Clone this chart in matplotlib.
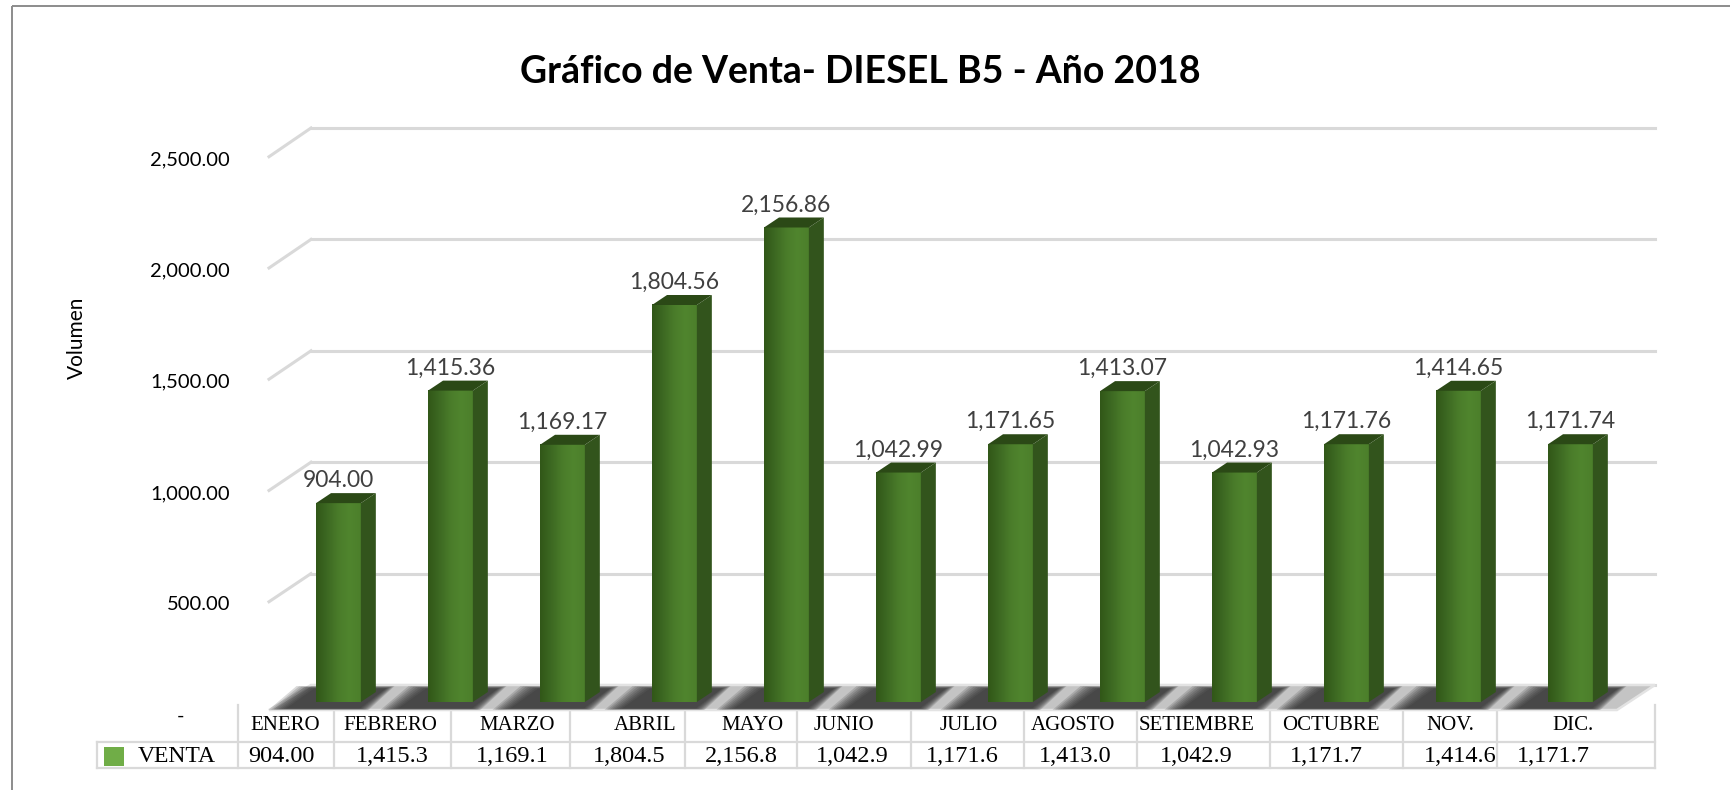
import numpy as np
import matplotlib
matplotlib.use("Agg")
import matplotlib.pyplot as plt
from matplotlib.patches import Polygon, Rectangle
from matplotlib.colors import LinearSegmentedColormap

# --- data ---
months = ["ENERO", "FEBRERO", "MARZO", "ABRIL", "MAYO", "JUNIO",
          "JULIO", "AGOSTO", "SETIEMBRE", "OCTUBRE", "NOV.", "DIC."]
venta = [904.00, 1415.36, 1169.17, 1804.56, 2156.86, 1042.99,
         1171.65, 1413.07, 1042.93, 1171.76, 1414.65, 1171.74]
# the data table shows truncated values (columns too narrow)
table_values = ["904.00", "1,415.3", "1,169.1", "1,804.5", "2,156.8", "1,042.9",
                "1,171.6", "1,413.0", "1,042.9", "1,171.7", "1,414.6", "1,171.7"]
y_ticks = [0, 500, 1000, 1500, 2000, 2500]
series_name = "VENTA"
title = "Gráfico de Venta- DIESEL B5 - Año 2018"
y_label = "Volumen"

# --- layout (pixels of a 1730x790 canvas) ---
W, H = 1730, 790
PX_CAT = 112.0       # px per category
PX_VAL = 0.220       # px per unit
XMIN, XMAX = -0.62, 11.415
YMAX = 2650
DX = 15 / PX_CAT     # bar depth offset
DY = 10 / PX_VAL
BAR_W = 0.40

col_edges = [238, 334, 451, 570, 685, 797, 911, 1024, 1137, 1270, 1403, 1497, 1655]
head_x = [285, 390, 517, 645, 752, 844, 969, 1073, 1197, 1331, 1450, 1573]
val_x = [281, 392, 512, 629, 741, 852, 962, 1075, 1196, 1326, 1460, 1553]

GRID = "#D9D9D9"
TEXT_GRAY = "#404040"

fig = plt.figure(figsize=(W / 100, H / 100), dpi=100)
fig.patch.set_facecolor("white")

# overlay in pixel coordinates for frame, title and data table
ov = fig.add_axes([0, 0, 1, 1])
ov.set_xlim(0, W)
ov.set_ylim(H, 0)
ov.axis("off")

ax = fig.add_axes([269 / W, (H - 702) / H, (XMAX - XMIN) * PX_CAT / W, YMAX * PX_VAL / H])
ax.axis("off")

# chart frame
ov.plot([12, 12], [H, 6], color="#8C8C8C", lw=1.4, solid_capstyle="butt")
ov.plot([12, W], [6, 6], color="#8C8C8C", lw=1.4, solid_capstyle="butt")

ov.text(860, 72, title, ha="center", va="center", fontsize=27,
        fontweight="bold", family="Lato", color="black")
ov.text(77, 338, y_label, rotation=90, ha="center", va="center",
        fontsize=15, family="Lato", color="black")

# back wall gridlines + side wall diagonals
xb0 = XMIN + 42 / PX_CAT
xb1 = XMAX + 38 / PX_CAT
for t in y_ticks:
    yb = 77.3 + 1.0127 * t
    yf = -50 + 1.0114 * t
    ax.plot([xb0, xb1], [yb, yb], color=GRID, lw=2.2, clip_on=False, zorder=1)
    if t > 0:
        ax.plot([XMIN, xb0], [yf, yb], color=GRID, lw=2.2, clip_on=False, zorder=1)
    if t == 0:
        ax.text(XMIN - 89 / PX_CAT, yf - 3 / PX_VAL, "-", ha="center", va="center",
                fontsize=14.5, family="Lato", color="black", clip_on=False)
    else:
        ax.text(XMIN - 39 / PX_CAT, yf - 3 / PX_VAL, f"{t:,.2f}", ha="right",
                va="center", fontsize=14.5, family="Lato", color="black", clip_on=False)

# floor
yfl_front = -8 / PX_VAL
yfl_back = 17 / PX_VAL
floor = Polygon([(XMIN, yfl_front), (XMAX, yfl_front), (xb1, yfl_back), (xb0, yfl_back)],
                closed=True, facecolor="#C4C4C4", edgecolor="#E3E3E3", lw=1.8,
                clip_on=False, zorder=2)
ax.add_patch(floor)

# soft shadows of bars on the floor
for i, v in enumerate(venta):
    for k in range(8):
        g = k * 2.5
        x0 = i - BAR_W / 2 - (16 + g) / PX_CAT
        x1 = i + BAR_W / 2 + DX + (6 + g * 0.5) / PX_CAT
        yf = yfl_front + (1.5 - k * 0.2) / PX_VAL
        yb = yfl_back - (3.5 - k * 0.35) / PX_VAL
        shp = Polygon([(x0 - 14 / PX_CAT, yf), (x1 - 22 / PX_CAT, yf),
                       (x1 + 4 / PX_CAT, yb), (x0 + 14 / PX_CAT, yb)],
                      closed=True, facecolor="#262626", edgecolor="none",
                      alpha=0.17, clip_on=False, zorder=2.1)
        ax.add_patch(shp)

# bars
front_cmap = LinearSegmentedColormap.from_list(
    "front", ["#315718", "#3D6922", "#4A7C2A", "#50852E", "#4C7F2B"])
grad = np.linspace(0, 1, 64).reshape(1, -1)
for i, v in enumerate(venta):
    xl, xr = i - BAR_W / 2, i + BAR_W / 2
    ax.imshow(grad, cmap=front_cmap, extent=(xl, xr, 0, v), aspect="auto",
              interpolation="bicubic", zorder=3, origin="lower")
    side = Polygon([(xr, 0), (xr + DX, DY), (xr + DX, v + DY), (xr, v)],
                   closed=True, facecolor="#32541C", edgecolor="none", zorder=3)
    top = Polygon([(xl, v), (xr, v), (xr + DX, v + DY), (xl + DX, v + DY)],
                  closed=True, facecolor="#2B4916", edgecolor="none", zorder=3)
    ax.add_patch(side)
    ax.add_patch(top)
    ax.text(i, v + 16 / PX_VAL, f"{v:,.2f}", ha="center", va="baseline",
            fontsize=16.5, family="Lato", color=TEXT_GRAY, zorder=4)

ax.set_xlim(XMIN, XMAX)
ax.set_ylim(0, YMAX)

# data table
ov.plot([97, col_edges[-1]], [742, 742], color=GRID, lw=1.6)
ov.plot([97, col_edges[-1]], [768, 768], color=GRID, lw=1.6)
ov.plot([97, 97], [742, 768], color=GRID, lw=1.6)
for xe in col_edges:
    ov.plot([xe, xe], [705, 768], color=GRID, lw=1.6)

ov.add_patch(Rectangle((104, 747), 20, 19, facecolor="#70AD47", edgecolor="none"))
ov.text(138, 756, series_name, ha="left", va="center", fontsize=17,
        family="Liberation Serif", color="black")

for j, m in enumerate(months):
    ov.text(head_x[j], 726, m, ha="center", va="center", fontsize=15,
            family="Liberation Serif", color="black")
    t = ov.text(val_x[j], 756, table_values[j], ha="center", va="center",
                fontsize=17.5, family="Liberation Serif", color="black")
    cell = Rectangle((col_edges[j], 742), col_edges[j + 1] - col_edges[j], 26,
                     transform=ov.transData, facecolor="none", edgecolor="none")
    t.set_clip_path(cell)

fig.savefig("out.png", dpi=100, facecolor="white")
